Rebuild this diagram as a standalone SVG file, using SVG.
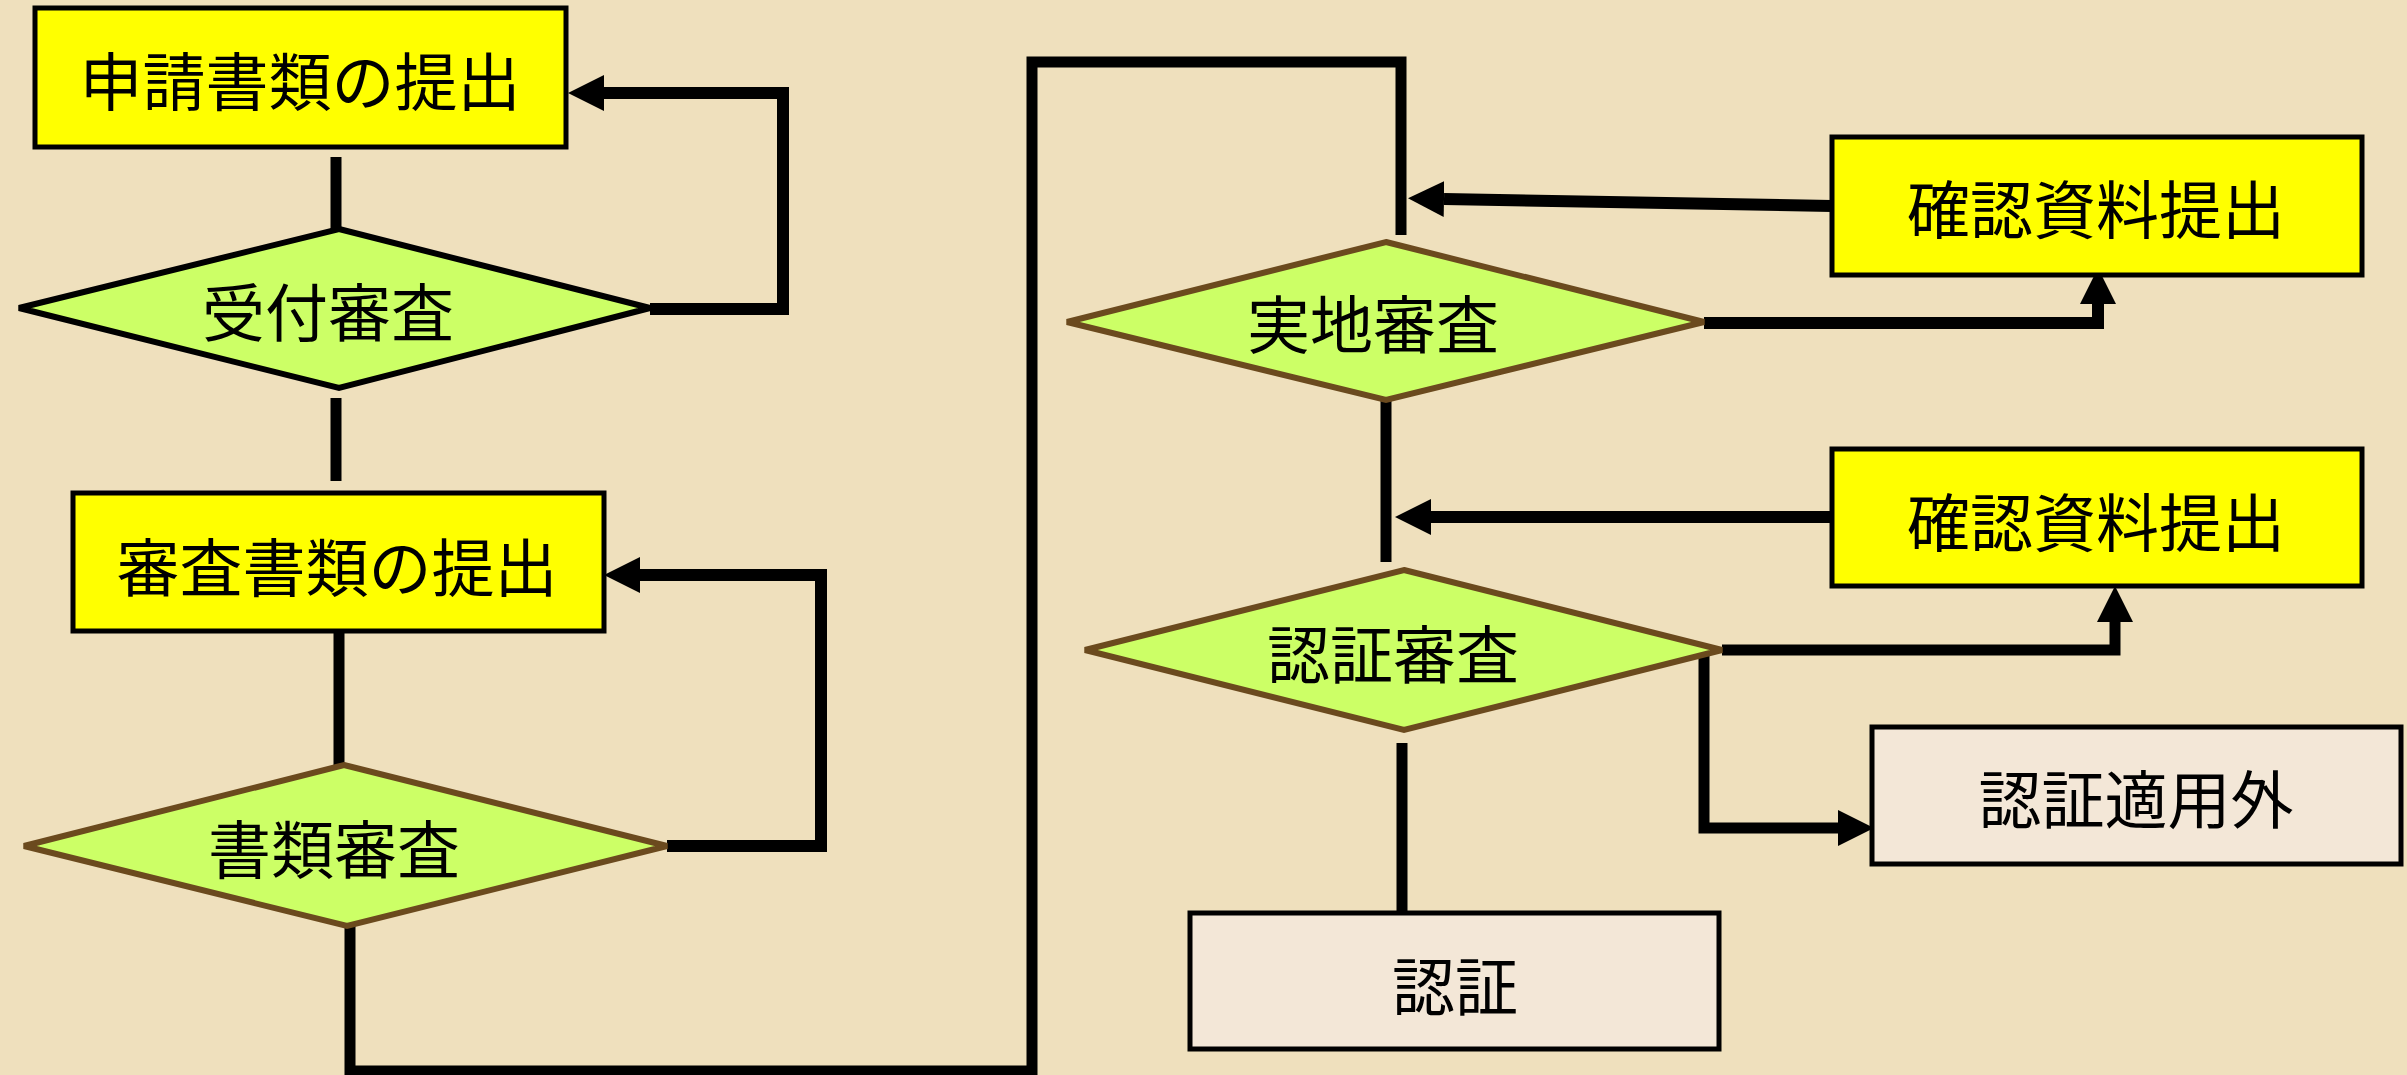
<svg xmlns="http://www.w3.org/2000/svg" width="2407" height="1075" viewBox="0 0 2407 1075">
<style>
.bg{fill:#EFE0BD}
.box{stroke:#000;stroke-width:5}
.yel{fill:#FFFF00}
.beige{fill:#F3E7D7}
.dia{fill:#CCFF66;stroke-width:6;stroke-linejoin:miter}
.blk{stroke:#000}
.brn{stroke:#6B4A1E}
.lbl{font-family:"Noto Sans CJK JP","Noto Sans CJK SC",sans-serif;font-size:63px;fill:#000;text-anchor:middle;dominant-baseline:central}
.con{fill:none;stroke:#000;stroke-width:11;stroke-linejoin:miter}
.thick{stroke-width:12}
</style>
<defs>
<marker id="ah" markerUnits="userSpaceOnUse" markerWidth="40" markerHeight="40" viewBox="0 -20 40 40" refX="0" refY="0" orient="auto">
<path d="M0,-18 L36,0 L0,18 z" fill="#000"/>
</marker>
</defs>
<rect class="bg" x="0" y="0" width="2407" height="1075"/>
<g id="connectors">
<path class="con" d="M336 157 V230"/>
<path class="con" d="M336 398 V481"/>
<path class="con" d="M339 631 V765"/>
<path class="con thick" d="M650 309 H783 V93 H604" marker-end="url(#ah)"/>
<path class="con thick" d="M667 846 H821 V575 H640" marker-end="url(#ah)"/>
<path class="con" d="M350 926 V1071 H1032 V62 H1401 V235"/>
<path class="con thick" d="M1832 206 L1444 199" marker-end="url(#ah)"/>
<path class="con thick" d="M1704 323 H2098 V304" marker-end="url(#ah)"/>
<path class="con" d="M1386 400 V562"/>
<path class="con thick" d="M1832 517 H1431" marker-end="url(#ah)"/>
<path class="con" d="M1722 650 H2115 V622" marker-end="url(#ah)"/>
<path class="con" d="M1704 650 V828 H1838" marker-end="url(#ah)"/>
<path class="con" d="M1402 743 V913"/>
</g>
<g id="n1"><rect class="box yel" x="35" y="8" width="531" height="139"/><text class="lbl" x="300" y="77">申請書類の提出</text></g>
<g id="n2"><polygon class="dia blk" points="339,229 650,308 339,388 19,308"/><text class="lbl" x="328" y="308">受付審査</text></g>
<g id="n3"><rect class="box yel" x="73" y="493" width="531" height="138"/><text class="lbl" x="337" y="563">審査書類の提出</text></g>
<g id="n4"><polygon class="dia brn" points="344,765 667,846 347,926 24,846"/><text class="lbl" x="334" y="845">書類審査</text></g>
<g id="n5"><polygon class="dia brn" points="1386,242 1704,322 1386,400 1067,322"/><text class="lbl" x="1373" y="320">実地審査</text></g>
<g id="n6"><rect class="box yel" x="1832" y="137" width="530" height="138"/><text class="lbl" x="2096" y="205">確認資料提出</text></g>
<g id="n7"><rect class="box yel" x="1832" y="449" width="530" height="137"/><text class="lbl" x="2096" y="518">確認資料提出</text></g>
<g id="n8"><polygon class="dia brn" points="1404,570 1722,650 1404,730 1085,650"/><text class="lbl" x="1393" y="650">認証審査</text></g>
<g id="n9"><rect class="box beige" x="1872" y="727" width="529" height="137"/><text class="lbl" x="2136" y="795">認証適用外</text></g>
<g id="n10"><rect class="box beige" x="1190" y="913" width="529" height="136"/><text class="lbl" x="1455" y="982">認証</text></g>
</svg>
